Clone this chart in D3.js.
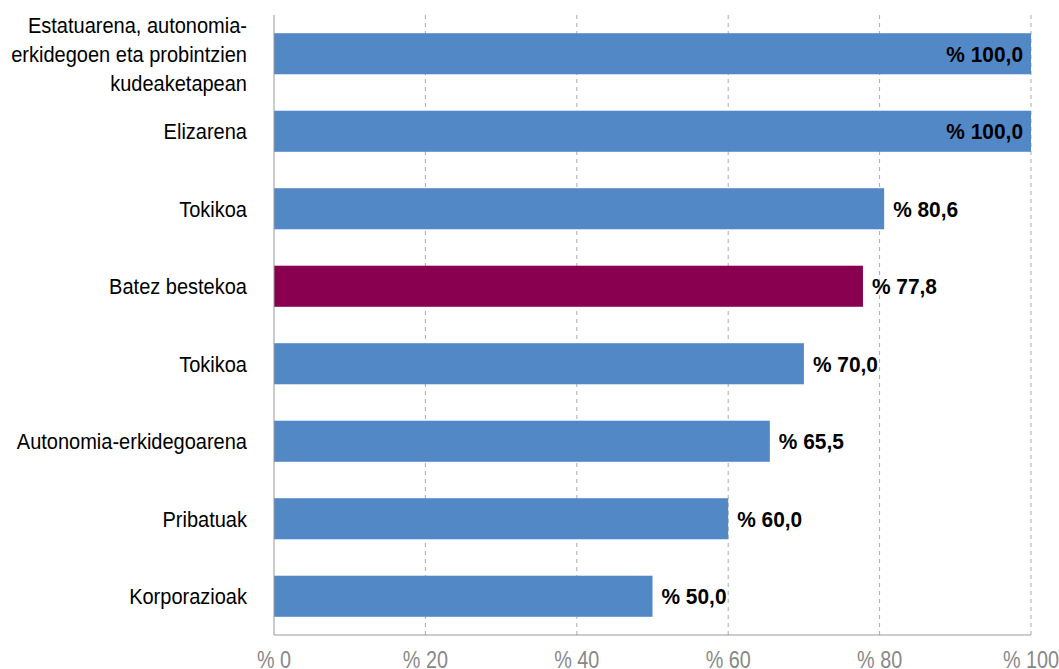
<!DOCTYPE html>
<html>
<head>
<meta charset="utf-8">
<script src="https://cdn.jsdelivr.net/npm/d3@7"></script>
<style>
	body { margin: 0; background: #fff; }
	text { font-family: "Liberation Sans", Arial, sans-serif; }
</style>
</head>
<body>
<svg id="viz"></svg>
<script>
// Data
const categories = [
	["Estatuarena, autonomia-", "erkidegoen eta probintzien", "kudeaketapean"],
	["Elizarena"],
	["Tokikoa"],
	["Batez bestekoa"],
	["Tokikoa"],
	["Autonomia-erkidegoarena"],
	["Pribatuak"],
	["Korporazioak"]
];
const values = [100.0, 100.0, 80.6, 77.8, 70.0, 65.5, 60.0, 50.0];
const highlight = [false, false, false, true, false, false, false, false];
const ticks = [0, 20, 40, 60, 80, 100];

const width = 1059;
const height = 669;
const margin = { top: 15, right: 28, bottom: 34, left: 274 };
const plotWidth = width - margin.left - margin.right;
const plotHeight = height - margin.top - margin.bottom;

// condensed look: squeeze text horizontally
const squeeze = 0.91;

const svg = d3.select("svg#viz")
	.attr("width", width)
	.attr("height", height);

const plot = svg.append("g")
	.attr("transform", translate(margin.left, margin.top));

const idx = d3.range(values.length);

const x = d3.scaleLinear().domain([0, 100]).range([0, plotWidth]);
const y = d3.scaleBand().domain(idx).range([0, plotHeight])
	.paddingInner(0.47).paddingOuter(0.235);

const fmt = v => "% " + d3.format(".1f")(v).replace(".", ",");

// grid lines (dashed)
plot.append("g").selectAll("line")
	.data(ticks.filter(t => t > 0))
	.join("line")
	.attr("x1", d => x(d)).attr("x2", d => x(d))
	.attr("y1", 0).attr("y2", plotHeight)
	.attr("stroke", "#aaa")
	.attr("stroke-width", 1)
	.attr("stroke-dasharray", "4,4");

// bars
plot.append("g").selectAll("rect")
	.data(idx)
	.join("rect")
	.attr("x", 0)
	.attr("y", i => y(i))
	.attr("width", i => x(values[i]))
	.attr("height", y.bandwidth())
	.attr("fill", i => highlight[i] ? "#8a0050" : "#5388c7");

// axes lines
plot.append("line")
	.attr("x1", 0).attr("x2", 0)
	.attr("y1", 0).attr("y2", plotHeight)
	.attr("stroke", "#999");
plot.append("line")
	.attr("x1", 0).attr("x2", plotWidth)
	.attr("y1", plotHeight).attr("y2", plotHeight)
	.attr("stroke", "#999");

// x tick labels
plot.append("g").selectAll("g")
	.data(ticks)
	.join("g")
	.attr("transform", d => translate(x(d), plotHeight + 33))
	.append("text")
	.attr("transform", "scale(0.86,1)")
	.attr("text-anchor", "middle")
	.attr("font-size", 23)
	.attr("fill", "#888")
	.text(d => "% " + d);

// value labels
plot.append("g").selectAll("g")
	.data(idx)
	.join("g")
	.attr("transform", i => translate(values[i] >= 100 ? x(values[i]) - 8 : x(values[i]) + 9,
		y(i) + y.bandwidth() / 2))
	.append("text")
	.attr("transform", "scale(0.95,1)")
	.attr("dy", "0.36em")
	.attr("text-anchor", i => values[i] >= 100 ? "end" : "start")
	.attr("font-size", 22)
	.attr("font-weight", "bold")
	.attr("fill", "#000")
	.text(i => fmt(values[i]));

// category labels
const lineH = 29;
const catLabels = plot.append("g").selectAll("g")
	.data(idx)
	.join("g")
	.attr("transform", i => translate(-27, y(i) + y.bandwidth() / 2 - (categories[i].length - 1) * lineH / 2))
	.append("text")
	.attr("transform", "scale(" + squeeze + ",1)")
	.attr("text-anchor", "end")
	.attr("font-size", 22)
	.attr("fill", "#000");

catLabels.selectAll("tspan")
	.data(i => categories[i])
	.join("tspan")
	.attr("x", 0)
	.attr("dy", (d, j) => j === 0 ? "0.36em" : lineH)
	.text(d => d);

function translate(x, y) {
	return "translate(" + x + "," + y + ")";
}
</script>
</body>
</html>
